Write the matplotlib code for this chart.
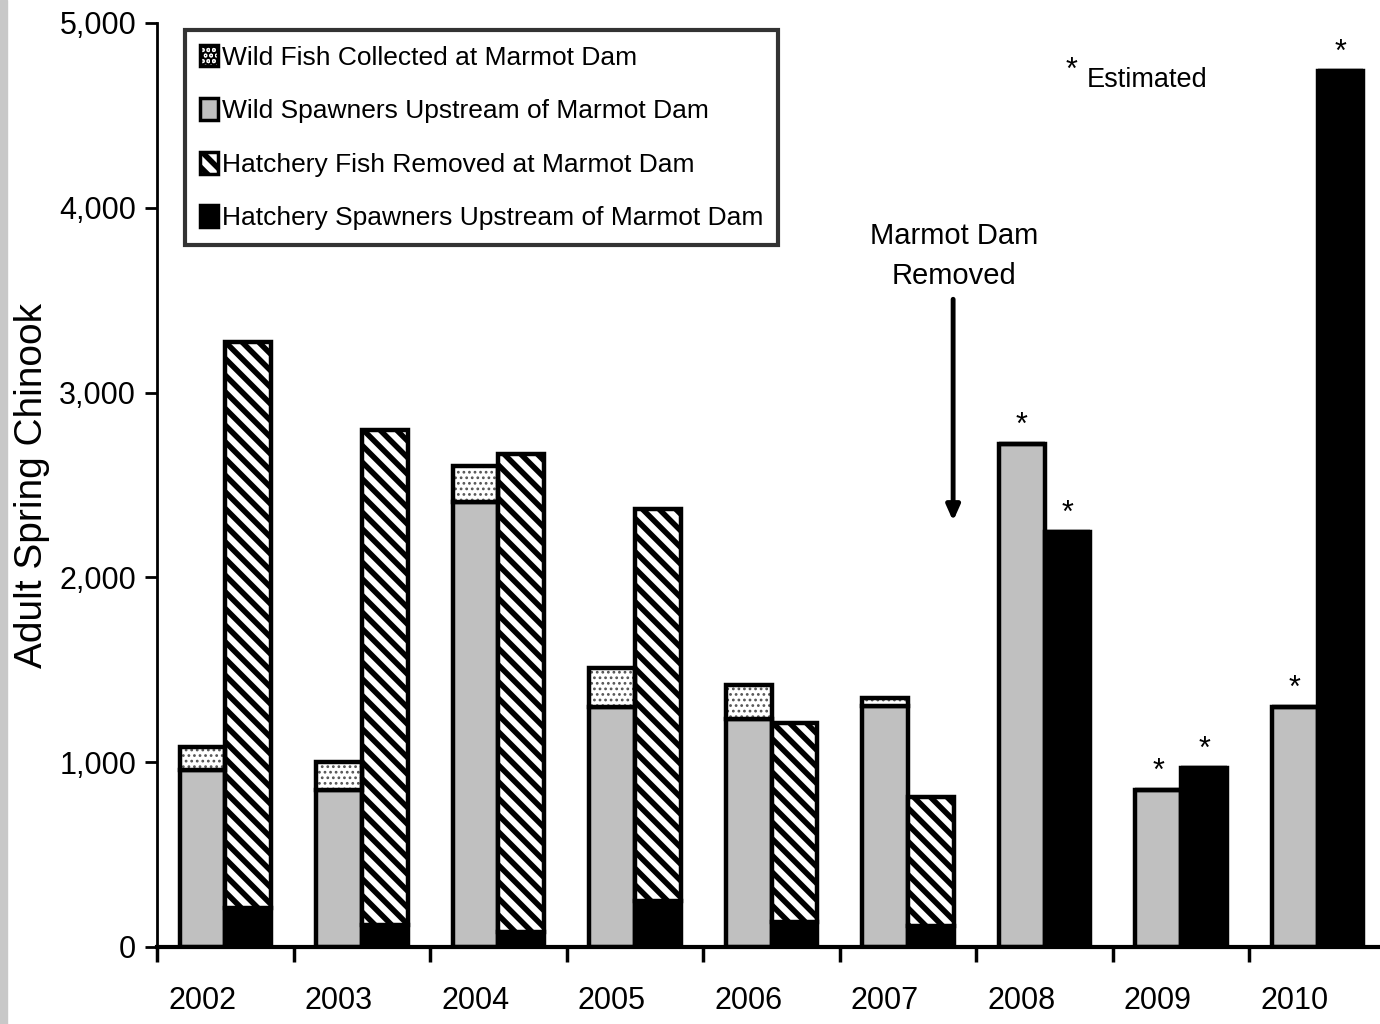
import numpy as np
import matplotlib
matplotlib.use("Agg")
import matplotlib.pyplot as plt
from matplotlib.patches import Patch, Rectangle

plt.rcParams['font.family'] = ['Liberation Sans', 'DejaVu Sans']
plt.rcParams['hatch.linewidth'] = 4.0

years = ['2002', '2003', '2004', '2005', '2006', '2007', '2008', '2009', '2010']
wild_spawners = [958, 850, 2408, 1299, 1234, 1304, 2722, 850, 1299]
wild_collected = [124, 151, 195, 211, 184, 43, 0, 0, 0]
hatch_spawners = [211, 119, 81, 249, 135, 114, 2246, 969, 4740]
hatch_removed = [3063, 2679, 2587, 2121, 1077, 698, 0, 0, 0]
# which bars are estimates (wild, hatchery)
est_wild = [False, False, False, False, False, False, True, True, True]
est_hatch = [False, False, False, False, False, False, True, True, True]

fig = plt.figure(figsize=(13.8, 10.24), dpi=100)
# axis spans 157..1386 px horizontally, 23..947 px vertically
ax = fig.add_axes([157 / 1380, 1 - 947 / 1024, (1386 - 157) / 1380, (947 - 23) / 1024])

x = np.arange(len(years))
w = 0.335
lw = 3.2

ws = np.array(wild_spawners)
wc = np.array(wild_collected)
hs = np.array(hatch_spawners)
hr = np.array(hatch_removed)

ax.bar(x - w / 2, ws, w, color='#c0c0c0', edgecolor='black', linewidth=lw, zorder=2)
# dotted part: hatch drawn in gray, then outline in black
dots = ax.bar(x - w / 2, wc, w, bottom=ws, color='white', edgecolor='#555555',
              hatch='...', linewidth=0, zorder=2)
for p in dots:
    if hasattr(p, 'set_hatch_linewidth'):
        p.set_hatch_linewidth(1.2)
ax.bar(x - w / 2, wc, w, bottom=ws, fill=False, edgecolor='black', linewidth=lw, zorder=3)

ax.bar(x + w / 2, hs, w, color='black', edgecolor='black', linewidth=lw, zorder=2)
ax.bar(x + w / 2, hr, w, bottom=hs, color='white', edgecolor='black', hatch='\\\\',
       linewidth=lw, zorder=2)

ax.set_xlim(-0.5, 8.5)
ax.set_ylim(0, 5000)
ax.set_yticks(np.arange(0, 5001, 1000))
ax.set_yticklabels(['0', '1,000', '2,000', '3,000', '4,000', '5,000'], fontsize=22)
ax.set_xticks(np.arange(-0.5, 8.6, 1))
ax.set_xticklabels([])
ax.tick_params(axis='y', direction='out', length=9, width=2, pad=6)
ax.tick_params(axis='x', direction='out', length=11, width=2.5)
for yr, xi in zip(years, x):
    ax.text(xi - 0.17, -210, yr, ha='center', va='top', fontsize=22)

ax.spines['top'].set_visible(False)
ax.spines['right'].set_visible(False)
ax.spines['left'].set_linewidth(2)
ax.spines['bottom'].set_linewidth(3)
fig.text(32 / 1380, 1 - 486 / 1024, 'Adult Spring Chinook', rotation=90,
         ha='center', va='center', fontsize=28)

# estimate asterisks
for i in range(len(years)):
    if est_wild[i]:
        ax.text(x[i] - w / 2, ws[i] + wc[i] + 15, '*', ha='center', va='bottom', fontsize=22)
    if est_hatch[i]:
        ax.text(x[i] + w / 2, hs[i] + hr[i] + 15, '*', ha='center', va='bottom', fontsize=22)
ax.text(6.2, 4660, '*', ha='center', va='bottom', fontsize=22)
ax.text(6.31, 4690, 'Estimated', ha='left', va='center', fontsize=19.5)

# dam removal note
ax.text(5.34, 3740, 'Marmot Dam\nRemoved', ha='center', va='center', fontsize=21,
        linespacing=1.55)
ax.annotate('', xy=(5.33, 2290), xytext=(5.33, 3520),
            arrowprops=dict(arrowstyle='-|>,head_width=0.4,head_length=0.9',
                            color='black', lw=3.5))

handles = [
    Patch(facecolor='white', edgecolor='black', hatch='...', linewidth=2.5),
    Patch(facecolor='#c0c0c0', edgecolor='black', linewidth=2.5),
    Patch(facecolor='white', edgecolor='black', hatch='\\\\', linewidth=2.5),
    Patch(facecolor='black', edgecolor='black', linewidth=2.5),
]
labels = ['Wild Fish Collected at Marmot Dam', 'Wild Spawners Upstream of Marmot Dam',
          'Hatchery Fish Removed at Marmot Dam', 'Hatchery Spawners Upstream of Marmot Dam']
leg = ax.legend(handles, labels, loc='upper left',
                bbox_to_anchor=((185 - 157) / 1229, 1 - 7 / 924),
                fontsize=19, frameon=True, fancybox=False, edgecolor='black',
                handlelength=0.7, handleheight=0.9, handletextpad=0.15, labelspacing=1.08,
                borderpad=0.55, borderaxespad=0)
leg.get_frame().set_linewidth(3)
leg.set_zorder(5)

# gray strip at the left edge of the scan
fig.patches.append(Rectangle((0, 0), 7 / 1380, 1, transform=fig.transFigure,
                             color='#c8c8c8', zorder=0))

fig.savefig('out.png', dpi=100)
